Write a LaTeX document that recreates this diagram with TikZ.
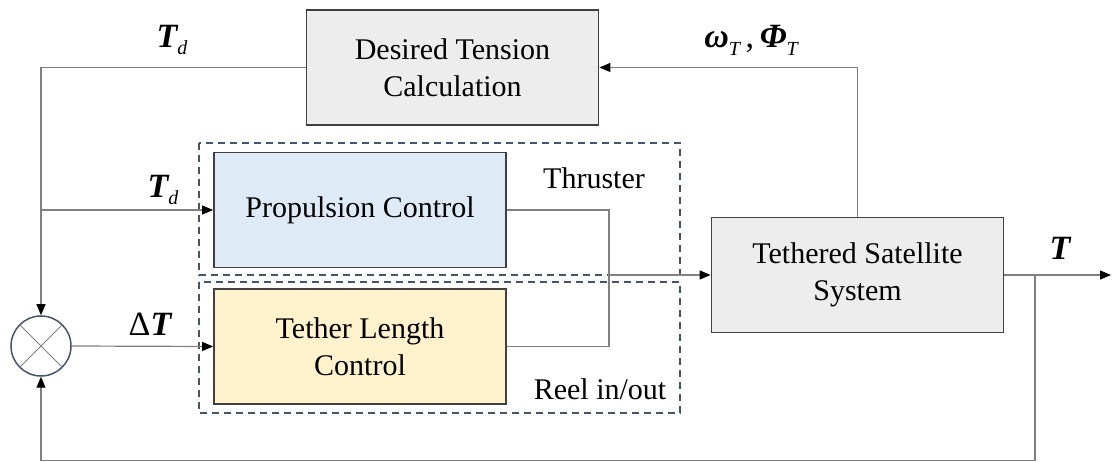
\documentclass[tikz,border=0pt]{standalone}
\usepackage{fontspec}
\setmainfont{Liberation Serif}
\usetikzlibrary{arrows.meta}
\definecolor{boxgray}{HTML}{EDEDED}
\definecolor{boxblue}{HTML}{DEEBF7}
\definecolor{boxyellow}{HTML}{FFF2CC}
\definecolor{edgeblue}{HTML}{44546A}
\definecolor{wiregray}{HTML}{808080}
\newcommand{\bit}[1]{{\bfseries\itshape #1}}
\newcommand{\lsub}[1]{\raisebox{-0.5ex}{\fontsize{20}{20}\selectfont\itshape #1}}

\begin{document}
\begin{tikzpicture}[x=1pt, y=-1pt,
    block/.style={draw=black!75, line width=1.8pt, minimum width=292pt, minimum height=115pt,
        inner sep=0pt, align=center, font=\fontsize{30}{37}\selectfont},
    group/.style={draw=edgeblue, line width=1.4pt, dash pattern=on 7pt off 5pt},
    wire/.style={draw=wiregray, line width=1.2pt},
    conn/.style={wire, -{Triangle[length=11pt, width=9pt, color=black]}},
    lab/.style={inner sep=0pt, font=\fontsize{34}{34}\selectfont},
    txt/.style={inner sep=0pt, font=\fontsize{30}{30}\selectfont}]
    \useasboundingbox (0,0) rectangle (1112,462);

    % dashed groups
    \draw[group] (199,143) rectangle (680,275);
    \draw[group] (199,282) rectangle (680,413);

    % blocks
    \node[block, fill=boxgray] (calc) at (452.5,67.5) {Desired Tension\\Calculation};
    \node[block, fill=boxblue] (prop) at (360,210) {Propulsion Control};
    \node[block, fill=boxyellow] (tlc) at (360,346.5) {Tether Length\\Control};
    \node[block, fill=boxgray] (tss) at (857.5,275) {Tethered Satellite\\System};
    \node[circle, draw=edgeblue, line width=1.5pt, minimum size=60pt, inner sep=0pt] (sum) at (41,346) {};
    \draw[wiregray, line width=1pt] (sum.north west) -- (sum.south east) (sum.north east) -- (sum.south west);

    \coordinate (merge) at (609,275);
    \coordinate (split) at (1035,275);
    \coordinate (out) at (1111,275);
    \coordinate (fbot) at (1035,460.5);

    % connectors
    \draw[conn] (calc.west) -| (sum.north);
    \draw[conn] (sum.north |- prop.west) -- (prop.west);
    \draw[conn] (sum.east) -- (tlc.west);
    \draw[wire] (prop.east) -| (merge) |- (tlc.east);
    \draw[conn] (merge) -- (tss.west);
    \draw[conn] (tss.north) |- (calc.east);
    \draw[conn] (tss.east) -- (out);
    \draw[conn] (split) -- (fbot) -| (sum.south);

    % labels
    \node[lab] (tdtop) at (172,40) {\bit{T}\lsub{d}};
    \node[lab] (tdmid) at (163,190) {\bit{T}\lsub{d}};
    \node[lab] (dt) at (150,324) {Δ\bit{T}};
    \node[lab] (wphi) at (751,40) {\bit{ω}\lsub{T}\,,\,\bit{Φ}\lsub{T}};
    \node[lab] (tout) at (1060,248) {\bit{T}};
    \node[txt] (thr) at (594,178) {Thruster};
    \node[txt] (reel) at (600,389) {Reel in/out};
\end{tikzpicture}
\end{document}
